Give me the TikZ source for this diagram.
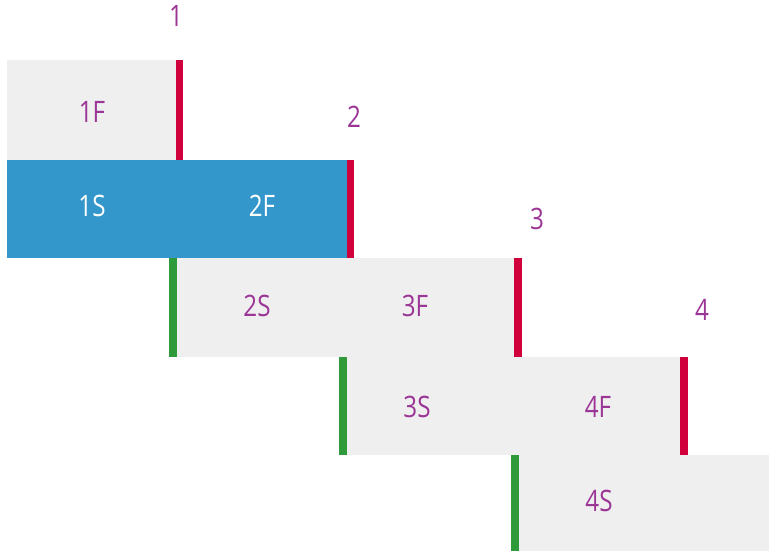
\documentclass[tikz,border=0pt]{standalone}
\usepackage{fontspec}
\setsansfont{Open Sans}[FakeStretch=0.82]
\definecolor{RowGray}{RGB}{239,239,239}
\definecolor{RowBlue}{RGB}{52,151,203}
\definecolor{FinishRed}{RGB}{208,0,60}
\definecolor{StartGreen}{RGB}{46,154,58}
\definecolor{LabelPurple}{RGB}{155,53,150}
\tikzset{
  grayrow/.style={fill=RowGray},
  bluerow/.style={fill=RowBlue},
  finishmark/.style={draw=FinishRed, line width=5pt},
  startmark/.style={draw=StartGreen, line width=5pt},
  phaselabel/.style={font=\sffamily\fontsize{21}{24}\selectfont, text=LabelPurple, inner sep=0pt},
  bluelabel/.style={phaselabel, text=white},
}

\begin{document}
\begin{tikzpicture}[x=0.025cm, y=-0.025cm]
  \useasboundingbox (0,0) rectangle (769,551);
  % rows
  \fill[grayrow] (7,60) rectangle (177,160);
  \fill[bluerow] (7,160) rectangle (350,258);
  \fill[grayrow] (173,258) rectangle (518,357);
  \fill[grayrow] (343,357) rectangle (684,455);
  \fill[grayrow] (515,455) rectangle (769,551);
  % start and finish marks
  \draw[finishmark] (179.5,60) -- (179.5,160);
  \draw[finishmark] (350.5,160) -- (350.5,258);
  \draw[finishmark] (518,258) -- (518,357);
  \draw[finishmark] (684,357) -- (684,455);
  \draw[startmark] (173,258) -- (173,357);
  \draw[startmark] (343,357) -- (343,455);
  \draw[startmark] (515,455) -- (515,551);
  % step numbers
  \node[phaselabel] (n1) at (176,16) {1};
  \node[phaselabel] (n2) at (354,117) {2};
  \node[phaselabel] (n3) at (537,219) {3};
  \node[phaselabel] (n4) at (702,310) {4};
  % row labels
  \node[phaselabel] (f1) at (92,112) {1F};
  \node[bluelabel] (s1) at (92,206) {1S};
  \node[bluelabel] (f2) at (262,206) {2F};
  \node[phaselabel] (s2) at (257,306) {2S};
  \node[phaselabel] (f3) at (415,306) {3F};
  \node[phaselabel] (s3) at (417,407) {3S};
  \node[phaselabel] (f4) at (598,407) {4F};
  \node[phaselabel] (s4) at (599,501) {4S};
\end{tikzpicture}
\end{document}
